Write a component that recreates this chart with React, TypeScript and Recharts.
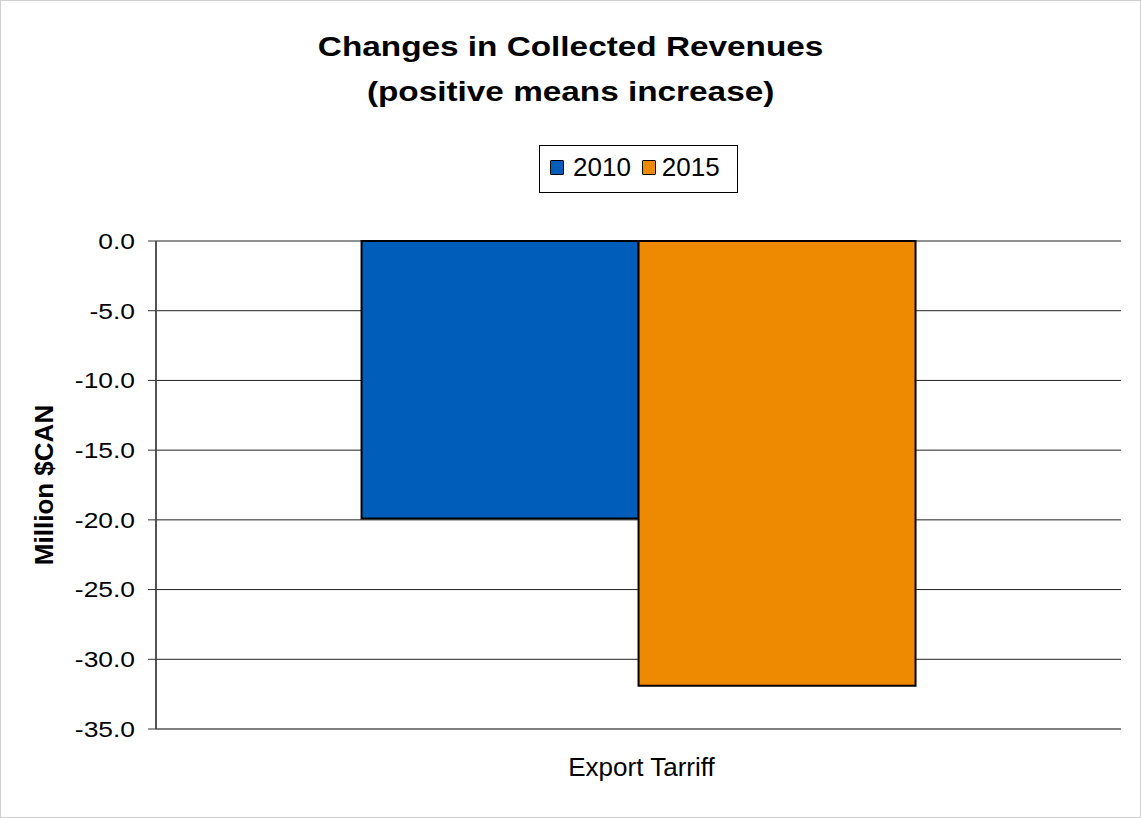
import { BarChart, Bar, XAxis, YAxis, CartesianGrid, Legend } from "recharts";

const categories = ["Export Tarriff"];
const values2010 = [-19.9];
const values2015 = [-31.9];
const yTicks = [0, -5, -10, -15, -20, -25, -30, -35];

const seriesNames = ["2010", "2015"];
const colors = ["#005dba", "#ee8a02"];

const FONT = "'Liberation Sans', Arial, sans-serif";

const data = categories.map((c, i) => ({
  category: c,
  y2010: values2010[i],
  y2015: values2015[i],
}));

function YTick({ x, y, payload }: any) {
  return (
    <g transform={`translate(${x},${y})`}>
      <text
        transform="scale(1.2,1)"
        textAnchor="end"
        dy="0.36em"
        fontSize={22}
        fontFamily={FONT}
        fill="#000"
      >
        {Number(payload.value).toFixed(1)}
      </text>
    </g>
  );
}

function XTick({ x, y, payload }: any) {
  return (
    <text x={x + 3} y={y} dy={47} textAnchor="middle" fontSize={26} fontFamily={FONT} fill="#000">
      {payload.value}
    </text>
  );
}

function YLabel() {
  return (
    <text
      x={44}
      y={485}
      transform="rotate(-90 44 485)"
      textAnchor="middle"
      dy="0.36em"
      fontSize={26}
      fontWeight="bold"
      fontFamily={FONT}
      fill="#000"
    >
      Million $CAN
    </text>
  );
}

function LegendBox() {
  const sq = (c: string) => (
    <span
      style={{
        display: "inline-block",
        width: 12,
        height: 13,
        background: c,
        border: "1.5px solid #000",
        borderRadius: 1,
      }}
    />
  );
  return (
    <div
      style={{
        boxSizing: "border-box",
        width: 199,
        height: 48,
        border: "1px solid #000",
        background: "#fff",
        display: "flex",
        alignItems: "center",
        fontFamily: FONT,
        fontSize: 26,
        color: "#000",
        paddingLeft: 10,
        paddingBottom: 4,
      }}
    >
      {sq(colors[0])}
      <span style={{ marginLeft: 9, marginRight: 11 }}>{seriesNames[0]}</span>
      {sq(colors[1])}
      <span style={{ marginLeft: 6 }}>{seriesNames[1]}</span>
    </div>
  );
}

export default function App() {
  return (
    <div style={{ position: "absolute", left: 0, top: 0, width: 1141, height: 818, background: "#fff" }}>
      <div
        style={{
          position: "absolute",
          left: 0,
          top: 0,
          width: 1141,
          textAlign: "center",
          fontFamily: FONT,
          fontWeight: "bold",
          fontSize: 28,
          color: "#000",
          zIndex: 2,
        }}
      >
        <div style={{ position: "absolute", left: 0, width: 1141, top: 31, transform: "scaleX(1.19)", transformOrigin: "570px 0", lineHeight: "32px" }}>
          Changes in Collected Revenues
        </div>
        <div style={{ position: "absolute", left: 0, width: 1141, top: 76, transform: "scaleX(1.19)", transformOrigin: "570px 0", lineHeight: "32px" }}>
          (positive means increase)
        </div>
      </div>
      <BarChart
        width={1141}
        height={818}
        data={data}
        margin={{ top: 193, right: 20, bottom: 29, left: 56 }}
        barCategoryGap="21.3%"
        barGap={0}
      >
        <CartesianGrid vertical={false} stroke="#222" strokeWidth={1} />
        <XAxis
          dataKey="category"
          height={60}
          tickLine={false}
          tickSize={0}
          tickMargin={0}
          axisLine={{ stroke: "#808080", strokeWidth: 2 }}
          tick={<XTick />}
        />
        <YAxis
          width={100}
          type="number"
          domain={[-35, 0]}
          ticks={yTicks}
          interval={0}
          tickSize={8}
          tickMargin={13}
          axisLine={{ stroke: "#555", strokeWidth: 2 }}
          tickLine={{ stroke: "#333" }}
          tick={<YTick />}
          label={<YLabel />}
        />
        <YAxis
          yAxisId="right"
          orientation="right"
          width={0}
          type="number"
          domain={[0, 1]}
          tick={false}
          tickLine={false}
          axisLine={{ stroke: "#808080", strokeWidth: 2 }}
        />
        <Legend
          verticalAlign="top"
          content={() => <LegendBox />}
          wrapperStyle={{ position: "absolute", top: 145, left: 539, width: 199, height: 48 }}
        />
        <Bar dataKey="y2010" name={seriesNames[0]} fill={colors[0]} stroke="#000" strokeWidth={2} isAnimationActive={false} />
        <Bar dataKey="y2015" name={seriesNames[1]} fill={colors[1]} stroke="#000" strokeWidth={2} isAnimationActive={false} />
      </BarChart>
      <div
        style={{
          position: "absolute",
          left: 0,
          top: 0,
          width: 1139,
          height: 816,
          border: "1px solid #d0d0d0",
          pointerEvents: "none",
        }}
      />
    </div>
  );
}
